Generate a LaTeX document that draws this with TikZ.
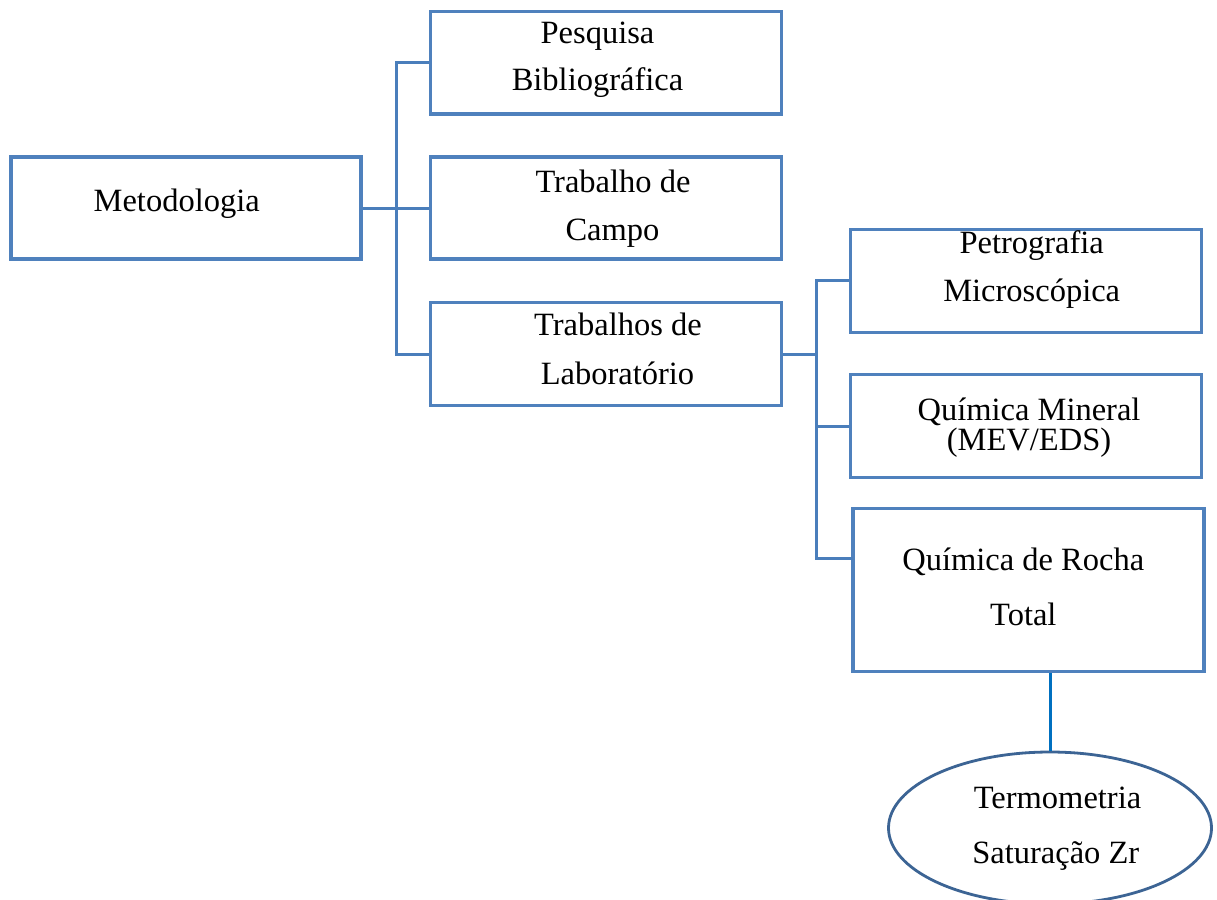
\documentclass[tikz,border=0pt]{standalone}
\usepackage{fontspec}
\setmainfont{Liberation Serif}
\usetikzlibrary{shapes.geometric}
\definecolor{boxblue}{HTML}{4F81BD}
\definecolor{linkblue}{HTML}{4A7EBB}
\definecolor{vblue}{HTML}{0070C0}
\definecolor{ellblue}{HTML}{3C6494}
\tikzset{
  box/.style={draw=boxblue, line width=3.2pt, rectangle, inner sep=0pt, fill=white},
  link/.style={draw=linkblue, line width=3pt},
  vlink/.style={draw=vblue, line width=3pt},
  ell/.style={draw=ellblue, line width=2.8pt, ellipse, inner sep=0pt, fill=white},
  txt/.style={anchor=base, inner sep=0pt, font=\fontsize{32.5}{39}\selectfont}
}
\begin{document}
\begin{tikzpicture}[x=1pt,y=-1pt]
\useasboundingbox (0,0) rectangle (1217,899);
\clip (0,0) rectangle (1217,899);
\fill[white] (0,0) rectangle (1217,899);
% boxes
\node[box, minimum width=350pt, minimum height=102pt] (met) at (186,208) {};
\node[box, minimum width=351pt, minimum height=102pt] (pb) at (606,62.9) {};
\node[box, minimum width=351pt, minimum height=102pt] (tc) at (606,208) {};
\node[box, minimum width=351pt, minimum height=103pt] (tl) at (606,354) {};
\node[box, minimum width=351pt, minimum height=103pt] (pm) at (1026,280.8) {};
\node[box, minimum width=351pt, minimum height=103pt] (qm) at (1026,426.3) {};
\node[box, minimum width=351pt, minimum height=163pt] (qr) at (1028.5,590) {};
\node[ell, minimum width=323pt, minimum height=152pt] (tz) at (1050,828) {};
% junctions
\coordinate (j1) at (396,208);
\coordinate (j2) at (816,354);
\coordinate (c3) at (853,558);
% connectors
\draw[link] (met.east) -- (j1);
\draw[link] (j1) |- (pb.west);
\draw[link] (j1) |- (tc.west);
\draw[link] (j1) |- (tl.west);
\draw[link] (tl.east) -- (j2);
\draw[link] (j2) |- (pm.west);
\draw[link] (j2) |- (qm.west);
\draw[link] (j2) |- (c3);
\draw[vlink] (tz.north) -- (tz.north |- qr.south);
% texts
\node[txt] (t0) at (176.7,211.7) {Metodologia};
\node[txt] (t1a) at (597.5,43.3) {Pesquisa};
\node[txt] (t1b) at (597.5,90.7) {Bibliográfica};
\node[txt] (t2a) at (613,192.7) {Trabalho de};
\node[txt] (t2b) at (612.5,240) {Campo};
\node[txt] (t3a) at (618,335) {Trabalhos de};
\node[txt] (t3b) at (617.5,384) {Laboratório};
\node[txt] (t4a) at (1031.7,253.3) {Petrografia};
\node[txt] (t4b) at (1031.7,301.7) {Microscópica};
\node[txt] (t5a) at (1029,420) {Química Mineral};
\node[txt] (t5b) at (1029,450.7) {(MEV/EDS)};
\node[txt] (t6a) at (1023.3,570) {Química de Rocha};
\node[txt] (t6b) at (1023.3,625) {Total};
\node[txt] (t7a) at (1057.5,808.3) {Termometria};
\node[txt] (t7b) at (1055.8,863.3) {Saturação Zr};
\end{tikzpicture}
\end{document}
